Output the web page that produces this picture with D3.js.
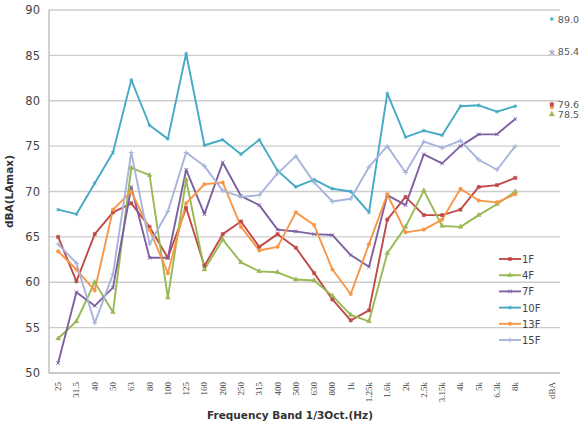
<!DOCTYPE html>
<html><head><meta charset="utf-8">
<script src="https://cdn.jsdelivr.net/npm/d3@7/dist/d3.min.js"></script>
<style>body{margin:0;background:#fff}svg{display:block}</style>
</head><body><svg id="c" width="582" height="426"></svg>
<script>
const categories = ["25","31.5","40","50","63","80","100","125","160","200","250","315","400","500","630","800","1k","1.25k","1.6k","2k","2.5k","3.15k","4k","5k","6.3k","8k","","dBA"];
const seriesNames = ["1F","4F","7F","10F","13F","15F"];
const s1F  = [65.0,60.1,65.3,67.7,68.7,66.1,62.7,68.2,61.8,65.3,66.7,63.9,65.3,63.8,61.0,58.1,55.8,56.9,66.9,69.4,67.4,67.4,68.0,70.5,70.7,71.5];
const s4F  = [53.8,55.7,60.0,56.7,72.6,71.8,58.3,71.3,61.4,64.7,62.2,61.2,61.1,60.3,60.2,58.5,56.4,55.7,63.2,66.1,70.1,66.2,66.1,67.4,68.6,70.0];
const s7F  = [51.1,58.9,57.4,59.4,70.5,62.7,62.7,72.4,67.5,73.2,69.5,68.5,65.8,65.6,65.3,65.2,63.0,61.7,69.6,68.5,74.1,73.1,75.0,76.3,76.3,78.0];
const s10F = [68.0,67.5,70.9,74.3,82.3,77.3,75.8,85.2,75.1,75.7,74.1,75.7,72.3,70.5,71.3,70.3,70.0,67.7,80.8,76.0,76.7,76.2,79.4,79.5,78.8,79.4];
const s13F = [63.4,61.4,59.1,68.0,70.0,65.8,61.0,68.7,70.8,71.0,66.1,63.5,63.9,67.7,66.3,61.4,58.7,64.2,69.7,65.5,65.8,66.9,70.3,69.0,68.8,69.7];
const s15F = [64.2,62.1,55.5,60.9,74.3,64.2,67.8,74.3,72.8,70.1,69.4,69.6,72.0,73.9,71.0,68.9,69.2,72.7,75.0,72.1,75.5,74.8,75.6,73.5,72.4,75.0];
const dBA  = [79.6,78.5,85.3,89.0,79.3,85.4];
const dBALabels = ["79.6","78.5","","89.0","","85.4"];
const yTicks = [50,55,60,65,70,75,80,85,90];
const colors = ["#BE4B48","#98B954","#7D60A0","#46AAC5","#F79646","#A9B4DB"];
const symbols = [d3.symbolSquare, d3.symbolTriangle, d3.symbolX, d3.symbolAsterisk, d3.symbolCircle, d3.symbolPlus];
const allSeries = [s1F,s4F,s7F,s10F,s13F,s15F];

const svg = d3.select("#c");
const L=49, R=561, T=10, B=373;
const x = d3.scaleBand().domain(categories).range([L,R]);
const y = d3.scaleLinear().domain([50,90]).range([B,T]);
const cx = c => x(c) + x.bandwidth()/2;

svg.append("g").selectAll("line").data(yTicks).join("line")
  .attr("x1",L).attr("x2",R-1).attr("y1",d=>y(d)).attr("y2",d=>y(d))
  .attr("stroke",d=>d===50?"#b8b8b8":"#cccccc").attr("stroke-width",1.3);
svg.append("line").attr("x1",L).attr("x2",L).attr("y1",T).attr("y2",B).attr("stroke","#b8b8b8").attr("stroke-width",1.3);

const yAxis = d3.axisLeft(y).tickValues(yTicks).tickSize(0).tickPadding(9);
const gy = svg.append("g").attr("transform",`translate(${L},0)`).call(yAxis);
gy.select(".domain").remove();
gy.selectAll("text").attr("font-family","DejaVu Sans, Verdana, sans-serif").attr("font-size","11.5px").attr("fill","#444");

const xAxis = d3.axisBottom(x).tickSize(0).tickPadding(0);
const gx = svg.append("g").attr("transform",`translate(0,${B})`).call(xAxis);
gx.select(".domain").remove();
gx.selectAll("text").attr("font-family","Liberation Serif, Times New Roman, serif").attr("font-size","9px").attr("fill","#444")
  .attr("text-anchor","end").attr("dy",null).attr("y",0)
  .attr("transform","translate(3,9) rotate(-90)");

svg.append("text").attr("x",290).attr("y",419).attr("text-anchor","middle")
  .attr("font-family","DejaVu Sans, Verdana, sans-serif").attr("font-weight","bold").attr("font-size","10.5px").attr("fill","#333")
  .text("Frequency Band 1/3Oct.(Hz)");
svg.append("text").attr("transform",`translate(13,${(T+B)/2}) rotate(-90)`).attr("text-anchor","middle")
  .attr("font-family","DejaVu Sans, Verdana, sans-serif").attr("font-weight","bold").attr("font-size","10.5px").attr("fill","#333")
  .text("dBA(LAmax)");

const line = d3.line().x((d,i)=>cx(categories[i])).y(d=>y(d));
allSeries.forEach((s,k)=>{
  svg.append("path").datum(s).attr("d",line).attr("fill","none")
    .attr("stroke",colors[k]).attr("stroke-width",1.9).attr("stroke-linejoin","round");
});
allSeries.forEach((s,k)=>{
  const sym = d3.symbol().type(symbols[k]).size(10);
  const stroked = [2,3,5].includes(k);
  svg.append("g").selectAll("path").data(s).join("path")
    .attr("transform",(d,i)=>`translate(${cx(categories[i])},${y(d)})`)
    .attr("d",sym)
    .attr("fill",stroked?"none":colors[k]).attr("stroke",colors[k]).attr("stroke-width",stroked?1:0.5);
});

const order = [4,0,1,2,5,3];
order.forEach(k=>{
  const sym = d3.symbol().type(symbols[k]).size(12);
  const stroked = [2,3,5].includes(k);
  svg.append("path").attr("transform",`translate(${cx("dBA")},${y(dBA[k])})`).attr("d",sym)
    .attr("fill",stroked?"none":colors[k]).attr("stroke",colors[k]).attr("stroke-width",stroked?1:0.5);
  if(dBALabels[k]) svg.append("text").attr("x",cx("dBA")+6).attr("y",y(dBA[k])+3.5)
    .attr("font-family","DejaVu Sans, Verdana, sans-serif").attr("font-size","9.5px").attr("fill","#555").text(dBALabels[k]);
});

const lg = svg.append("g").attr("transform","translate(499,259)");
seriesNames.forEach((n,k)=>{
  const g = lg.append("g").attr("transform",`translate(0,${k*16.2})`);
  g.append("line").attr("x1",0).attr("x2",22).attr("stroke",colors[k]).attr("stroke-width",1.9);
  const stroked = [2,3,5].includes(k);
  g.append("path").attr("transform","translate(11,0)").attr("d",d3.symbol().type(symbols[k]).size(10))
    .attr("fill",stroked?"none":colors[k]).attr("stroke",colors[k]).attr("stroke-width",stroked?1:0.5);
  g.append("text").attr("x",23).attr("y",4).attr("font-family","DejaVu Sans, Verdana, sans-serif")
    .attr("font-size","10px").attr("fill","#444").text(n);
});
</script></body></html>
